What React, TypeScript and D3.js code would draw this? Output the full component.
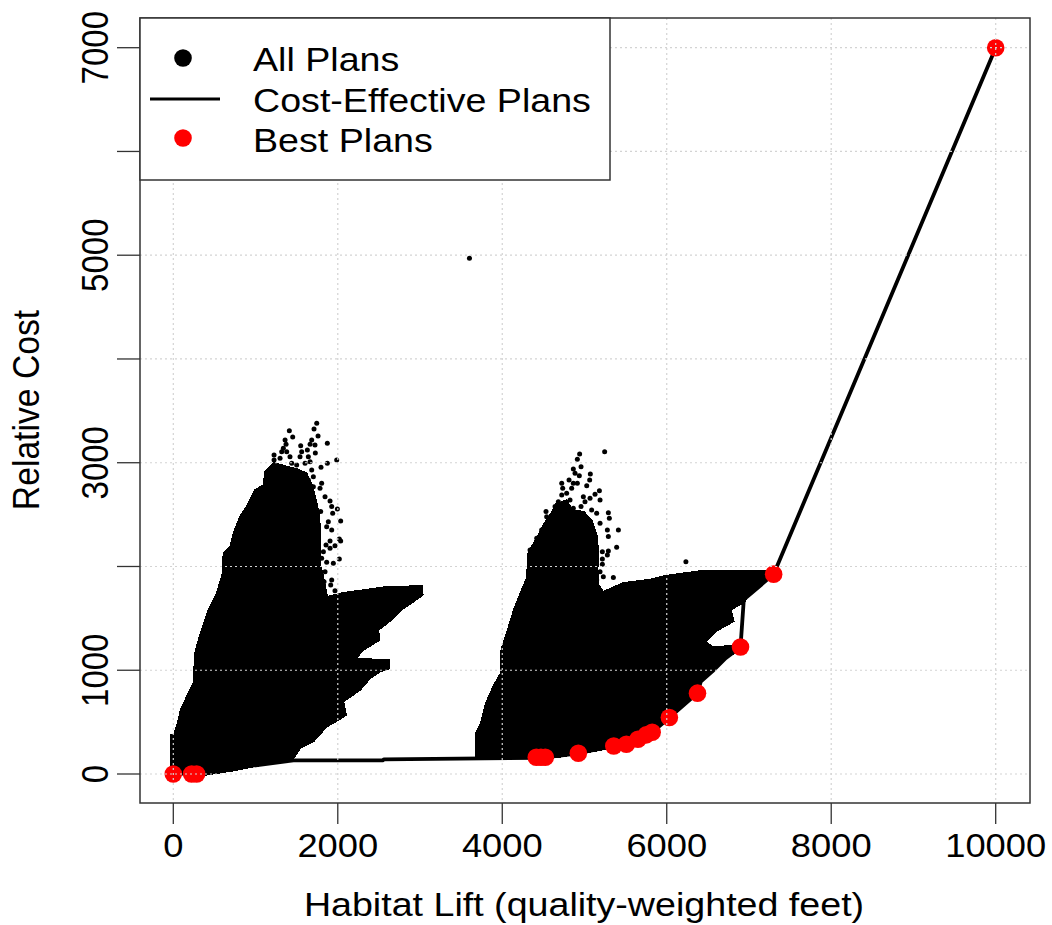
import React from 'react';
import * as d3 from 'd3';

type Pt = [number, number];

const xTicks = [0, 2000, 4000, 6000, 8000, 10000];
const yTicks = [0, 1000, 2000, 3000, 4000, 5000, 6000, 7000];
const yLabels = [0, 1000, 3000, 5000, 7000];

// outlines of the two dense clouds of plans (habitat lift, relative cost)
const cloudOne: Pt[] = [
  [-32, 0], [-32, 376], [8, 376], [61, 520], [89, 617], [162, 745], [243, 874], [264, 1163],
  [316, 1323], [385, 1484], [426, 1580], [519, 1725], [600, 1934], [609, 2126], [690, 2191],
  [730, 2319], [811, 2480], [913, 2608], [933, 2641], [994, 2737], [1095, 2785], [1115, 2914],
  [1225, 3000], [1400, 2960], [1500, 2940], [1620, 2900], [1680, 2800], [1730, 2660], [1770, 2520],
  [1790, 2340], [1790, 2175], [1790, 2015], [1820, 1918], [1873, 1709], [2069, 1747], [2313, 1773],
  [2596, 1805], [3022, 1812], [3035, 1725], [2921, 1661], [2799, 1596], [2678, 1500], [2495, 1388],
  [2507, 1291], [2313, 1195], [2223, 1115], [2434, 1105], [2629, 1099], [2629, 1018], [2515, 986],
  [2394, 922], [2272, 809], [2069, 697], [2102, 569], [2008, 520], [1866, 456], [1704, 312],
  [1542, 247], [1461, 151], [1217, 103], [974, 71], [730, 32], [385, -10],
];

const cloudTwo: Pt[] = [
  [3678, 151], [3678, 393], [3738, 489], [3799, 683], [3899, 860], [3980, 972], [3988, 1198],
  [4040, 1327], [4141, 1584], [4236, 1774], [4297, 1886], [4317, 2143], [4419, 2272], [4500, 2400],
  [4581, 2496], [4650, 2600], [4780, 2640], [4860, 2540], [4990, 2530], [5090, 2440], [5150, 2300],
  [5170, 2140], [5160, 1980], [5170, 1822], [5229, 1758], [5278, 1774], [5469, 1842], [5791, 1874],
  [6000, 1913], [6394, 1955], [6937, 1961], [7280, 1964], [7360, 1906], [7159, 1842], [6998, 1729],
  [6937, 1649], [6777, 1584], [6817, 1472], [6596, 1375], [6475, 1278], [6555, 1224], [6797, 1236],
  [6837, 1166], [6716, 1117], [6555, 989], [6414, 892], [6374, 779], [6193, 683], [6032, 554],
  [5851, 425], [5630, 328], [5308, 248], [4986, 200], [4583, 151],
];

// plans scattered above the dense clouds
const strayPlans: Pt[] = [
  [1744, 3380], [1711, 3325], [1411, 3309], [1452, 3248], [1760, 3258], [1683, 3219], [1663, 3177],
  [1723, 3171], [1630, 3123], [1727, 3094], [1873, 3187], [1359, 3219], [1371, 3177], [1338, 3139],
  [1318, 3107], [1379, 3107], [1419, 3058], [1549, 3164], [1561, 3107], [1541, 3058], [1642, 3058],
  [1663, 3010], [1225, 3075], [1225, 3026], [1298, 3042], [1987, 3026], [1873, 2994], [1796, 2956],
  [1440, 2994], [1500, 2978], [1602, 2994], [1683, 2930], [1460, 2930], [1541, 2898], [1703, 2866],
  [1642, 2834], [1460, 2850], [1804, 2802], [1784, 2753], [1703, 2769], [1845, 2673], [1906, 2631],
  [1926, 2577], [1995, 2554], [1938, 2512], [1792, 2529], [2035, 2439], [1885, 2432], [1926, 2352],
  [1865, 2384], [2019, 2265], [2035, 2246], [1906, 2246], [1857, 2207], [1966, 2201], [1906, 2175],
  [1825, 2143], [2019, 2072], [1946, 2031], [1865, 2040], [1804, 2079], [1926, 1870], [1914, 1822],
  [1966, 1767], [1845, 1950], [1833, 1854],
  [5245, 3107], [4941, 3084], [4913, 3033], [4958, 2962], [4864, 2940], [4885, 2898], [4937, 2875],
  [5071, 2892], [5063, 2834], [5027, 2779], [4913, 2802], [4864, 2802], [4812, 2834], [4723, 2802],
  [4735, 2753], [4844, 2753], [4783, 2705], [4723, 2689], [5181, 2731], [5128, 2696], [5189, 2641],
  [4986, 2673], [5067, 2657], [5006, 2625], [4824, 2641], [4682, 2625], [4642, 2577], [4702, 2577],
  [4864, 2561], [4958, 2577], [5087, 2545], [5148, 2513], [4532, 2529], [4540, 2480], [5290, 2519],
  [5302, 2464], [5189, 2416], [5278, 2352], [5412, 2352], [5290, 2288], [5391, 2185], [5217, 2143],
  [5290, 2150], [5278, 2111], [5217, 2072], [5217, 2021], [5351, 1893], [5189, 1950], [5128, 1967],
  [5229, 1902], [5148, 1870], [4479, 2352], [4338, 2159], [4338, 2095], [4419, 2272], [5168, 1790],
  [6233, 2045], [3601, 4971],
];

const costEffective: Pt[] = [
  [0, 0], [284, 10], [1461, 132], [2550, 132], [2560, 141], [4414, 155], [4523, 161], [4925, 200],
  [5356, 270], [5509, 287], [5650, 335], [5750, 377], [5823, 402], [6032, 544], [6374, 779],
  [6414, 892], [6555, 989], [6716, 1117], [6897, 1224], [6937, 1681], [7300, 1926], [10000, 7000],
];

const bestPlans: Pt[] = [
  [0, 0], [223, 0], [284, 0], [4414, 161], [4470, 161], [4523, 161], [4925, 200], [5356, 270],
  [5509, 287], [5650, 335], [5750, 377], [5823, 402], [6032, 544], [6374, 779], [6897, 1224],
  [7300, 1926], [10000, 7000],
];

const legendLabels = ['All Plans', 'Cost-Effective Plans', 'Best Plans'];

const WIDTH = 1052;
const HEIGHT = 925;
const box = { left: 140, right: 1030, top: 18, bottom: 803 };
const FONT = '"Liberation Sans", Arial, sans-serif';
// the original picture is stretched sideways
const STRETCH = 1.1;
const TITLE_STRETCH = 1.14;

export default function App() {
  const x = d3.scaleLinear().domain([0, 10000]).range([173.3, 995.7]);
  const y = d3.scaleLinear().domain([0, 7000]).range([774, 47.7]);
  const line = d3.line<Pt>().x(d => x(d[0])).y(d => y(d[1]));

  return (
    <svg width={WIDTH} height={HEIGHT} style={{ position: 'absolute', left: 0, top: 0, background: '#fff' }}>
      <g fill="#000" stroke="#000" strokeWidth={1.5} shapeRendering="crispEdges">
        <path d={line(cloudOne) + 'Z'} />
        <path d={line(cloudTwo) + 'Z'} />
      </g>
      {strayPlans.map((d, i) => (
        <circle key={i} cx={x(d[0])} cy={y(d[1])} r={2.5} fill="#000" />
      ))}
      <path d={line(costEffective) ?? ''} fill="none" stroke="#000" strokeWidth={3.8} strokeLinejoin="round" />
      {bestPlans.map((d, i) => (
        <circle key={i} cx={x(d[0])} cy={y(d[1])} r={8.8} fill="#ff0000" />
      ))}

      {/* dotted grid sits over the marks */}
      <g stroke="#d3d3d3" strokeWidth={1.2} strokeDasharray="2 3">
        {xTicks.map(t => (
          <line key={t} x1={x(t)} x2={x(t)} y1={box.top} y2={box.bottom} />
        ))}
        {yTicks.map(t => (
          <line key={t} x1={box.left} x2={box.right} y1={y(t)} y2={y(t)} />
        ))}
      </g>

      <rect x={box.left} y={box.top} width={box.right - box.left} height={box.bottom - box.top}
        fill="none" stroke="#333" strokeWidth={1.5} />

      {/* axes */}
      <g stroke="#333" strokeWidth={1.3}>
        {xTicks.map(t => (
          <line key={t} x1={x(t)} x2={x(t)} y1={box.bottom} y2={box.bottom + 21} />
        ))}
        {yTicks.map(t => (
          <line key={t} x1={box.left} x2={box.left - 23} y1={y(t)} y2={y(t)} />
        ))}
      </g>
      <g fontFamily={FONT} fontSize={33} fill="#000">
        {xTicks.map(t => (
          <text key={t} textAnchor="middle" transform={`translate(${x(t)},857) scale(${STRETCH},1)`}>{t}</text>
        ))}
        {yLabels.map(t => (
          <text key={t} textAnchor="middle" transform={`translate(108,${y(t)}) scale(${STRETCH},1) rotate(-90)`}>{t}</text>
        ))}
        <text textAnchor="middle" transform={`translate(584,916) scale(${TITLE_STRETCH},1)`}>Habitat Lift (quality-weighted feet)</text>
        <text textAnchor="middle" fontSize={33.7} transform={`translate(39,410) scale(${STRETCH},1) rotate(-90)`}>Relative Cost</text>
      </g>

      {/* legend */}
      <rect x={box.left} y={box.top} width={470} height={162} fill="#fff" stroke="#333" strokeWidth={1.5} />
      <circle cx={183} cy={58} r={8.8} fill="#000" />
      <line x1={150} x2={220} y1={99} y2={99} stroke="#000" strokeWidth={2.8} />
      <circle cx={183} cy={138} r={8.8} fill="#ff0000" />
      <g fontFamily={FONT} fontSize={33} fill="#000">
        {legendLabels.map((label, i) => (
          <text key={label} transform={`translate(253,${[71, 112, 152][i]}) scale(${TITLE_STRETCH},1)`}>{label}</text>
        ))}
      </g>
    </svg>
  );
}
